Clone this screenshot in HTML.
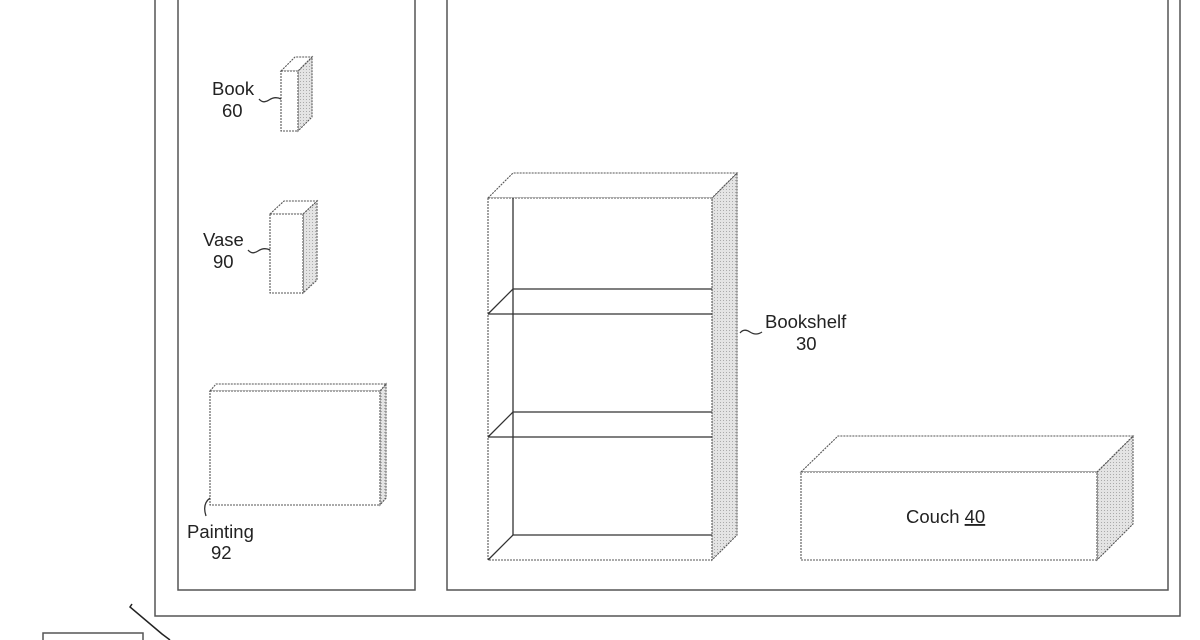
<!DOCTYPE html>
<html><head><meta charset="utf-8"><style>
html,body{margin:0;padding:0;background:#fff;}
svg{display:block;}
text{font-family:"Liberation Sans",Arial,sans-serif;font-size:18.5px;fill:#222;}
</style></head><body>
<svg width="1200" height="640" viewBox="0 0 1200 640" xmlns="http://www.w3.org/2000/svg">
<defs>
<pattern id="sh" width="3" height="3" patternUnits="userSpaceOnUse">
<rect width="3" height="3" fill="#e4e4e4"/><rect width="1" height="1" fill="#aaa"/>
</pattern>
</defs>
<g fill="none" stroke="#555" stroke-width="1.5">
<polyline points="155,-2 155,616 1180,616 1180,-2"/>
<polyline points="178,-2 178,590 415,590 415,-2"/>
<polyline points="447,-2 447,590 1168,590 1168,-2"/>
<polyline points="43,642 43,633 143,633 143,642"/>
</g>
<path d="M132,604 L130,607 L162,634 L170,640" fill="none" stroke="#222" stroke-width="1.5"/>
<g stroke="#555" stroke-width="1.1" stroke-dasharray="2,1">
<polygon points="298,71 312,57 312,117 298,131" fill="url(#sh)"/>
<polygon points="281,71 295,57 312,57 298,71" fill="#fff"/>
<rect x="281" y="71" width="17" height="60" fill="#fff"/>
<polygon points="303,214 317,201 317,280 303,293" fill="url(#sh)"/>
<polygon points="270,214 284,201 317,201 303,214" fill="#fff"/>
<rect x="270" y="214" width="33" height="79" fill="#fff"/>
<polygon points="380,391 386,384 386,498 380,505" fill="url(#sh)"/>
<polygon points="210,391 216,384 386,384 380,391" fill="#fff"/>
<rect x="210" y="391" width="170" height="114" fill="#fff"/>
<polygon points="712,198 737,173 737,535 712,560" fill="url(#sh)"/>
<polygon points="488,198 513,173 737,173 712,198" fill="#fff"/>
<rect x="488" y="198" width="224" height="362" fill="#fff"/>
<polygon points="1097,472 1133,436 1133,524 1097,560" fill="url(#sh)"/>
<polygon points="801,472 838,436 1133,436 1097,472" fill="#fff"/>
<rect x="801" y="472" width="296" height="88" fill="#fff"/>
</g>
<g fill="none" stroke="#333" stroke-width="1.3">
<line x1="513" y1="198" x2="513" y2="535"/>
<polyline points="488,314 513,289 712,289"/>
<line x1="488" y1="314" x2="712" y2="314"/>
<polyline points="488,437 513,412 712,412"/>
<line x1="488" y1="437" x2="712" y2="437"/>
<polyline points="488,560 513,535 712,535"/>
<path d="M259,99 q4,5 10,1 q6,-4 12,-1"/>
<path d="M248,250 q4,5 10,1 q6,-4 12,-1"/>
<path d="M740,333 q4,-5 10,-1 q6,4 12,0"/>
<path d="M210,498 q-8,6 -4,18"/>
</g>
<text x="212" y="95">Book</text>
<text x="222" y="117">60</text>
<text x="203" y="246">Vase</text>
<text x="213" y="268">90</text>
<text x="187" y="538">Painting</text>
<text x="211" y="559">92</text>
<text x="765" y="328">Bookshelf</text>
<text x="796" y="350">30</text>
<text x="906" y="523">Couch <tspan text-decoration="underline">40</tspan></text>
</svg>
</body></html>
